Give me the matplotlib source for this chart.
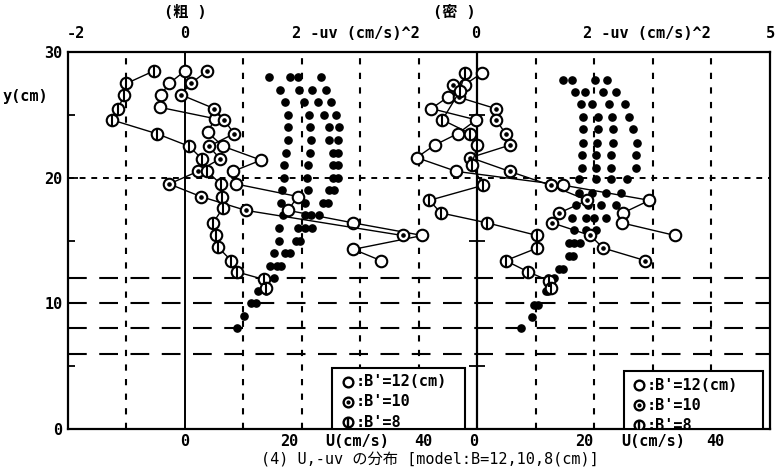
import matplotlib
matplotlib.use('agg')
import matplotlib.pyplot as plt
from matplotlib.patches import Rectangle

# ---------------- data ----------------
# mean velocity U (cm/s) at depth y (cm), four dot columns per panel
# left panel (粗)
lu1_y = [8, 9, 10, 11, 12, 13, 14, 15, 16, 17, 18, 19, 20, 21, 22, 23, 24, 25, 26, 27, 28]
lu1_u = [8.9, 10.1, 11.3, 12.4, 13.5, 14.5, 15.2, 16.0, 16.0, 16.7, 16.4, 16.6, 17.0, 17.0, 17.3, 17.6, 17.6, 17.6, 17.1, 16.2, 14.3]
lu2_y = [10, 11, 12, 13, 14, 15, 16, 17, 18, 19, 20, 21, 22, 23, 24, 25, 26, 27, 28]
lu2_u = [12.1, 13.8, 15.2, 15.8, 17.1, 18.9, 19.4, 20.6, 20.6, 21.0, 20.8, 21.1, 21.3, 21.5, 21.3, 21.2, 20.3, 19.5, 17.9]
lu3_y = [13, 14, 15, 16, 17, 18, 19, 20, 21, 22, 23, 24, 25, 26, 27, 28]
lu3_u = [16.4, 17.9, 19.6, 20.6, 21.5, 23.6, 24.6, 25.3, 25.3, 25.3, 24.7, 24.7, 23.7, 22.7, 21.8, 19.3]
lu4_y = [16, 17, 18, 19, 20, 21, 22, 23, 24, 25, 26, 27, 28]
lu4_u = [21.8, 22.9, 24.4, 25.5, 26.1, 26.1, 26.1, 26.1, 26.3, 25.9, 24.9, 24.1, 23.2]

# right panel (密)
ru1_y = [8.0, 8.9, 9.9, 11.0, 12.0, 12.7, 13.8, 14.8, 15.8, 16.8, 17.8, 18.8, 19.9, 20.8, 21.8, 22.8, 23.9, 24.8, 25.9, 26.8, 27.8]
ru1_u = [7.5, 9.4, 9.6, 11.7, 12.1, 14.0, 15.6, 15.6, 16.5, 16.2, 16.8, 17.4, 17.3, 17.9, 17.9, 18.1, 18.1, 18.1, 17.7, 16.6, 14.7]
ru2_y = [9.9, 11.0, 12.0, 12.7, 13.8, 14.8, 15.8, 16.8, 17.8, 18.8, 19.9, 20.8, 21.8, 22.8, 23.9, 24.8, 25.9, 26.8, 27.8]
ru2_u = [10.4, 12.1, 13.0, 14.7, 16.4, 16.5, 18.5, 18.5, 18.9, 19.6, 20.3, 20.3, 20.3, 20.4, 20.6, 20.6, 19.6, 18.3, 16.2]
ru3_y = [14.8, 15.8, 16.8, 17.8, 18.8, 19.9, 20.8, 21.8, 22.8, 23.9, 24.8, 25.9, 26.8, 27.8]
ru3_u = [17.6, 20.2, 20.0, 21.2, 22.0, 22.9, 22.9, 22.9, 23.2, 23.2, 23.0, 22.4, 21.5, 20.1]
ru4_y = [16.8, 17.8, 18.8, 19.9, 20.8, 21.8, 22.8, 23.9, 24.8, 25.9, 26.8, 27.8]
ru4_u = [22.0, 23.6, 24.5, 25.6, 27.1, 27.1, 27.2, 26.6, 25.9, 25.3, 23.7, 22.2]

# Reynolds stress -uv ((cm/s)^2) profiles, B'=12, 10, 8
# left panel (粗)
l12_y = [28.5, 27.5, 26.6, 25.6, 24.7, 23.6, 22.5, 21.4, 20.5, 19.5, 18.5, 17.4, 16.4, 15.4, 14.3, 13.4]
l12_uv = [0.00, -0.27, -0.41, -0.43, 0.51, 0.39, 0.65, 1.30, 0.82, 0.87, 1.93, 1.76, 2.88, 4.06, 2.88, 3.35]
l10_y = [28.5, 27.5, 26.6, 25.5, 24.6, 23.5, 22.5, 21.5, 20.5, 19.5, 18.5, 17.4, 15.4]
l10_uv = [0.38, 0.10, -0.07, 0.50, 0.67, 0.84, 0.41, 0.60, 0.22, -0.27, 0.27, 1.04, 3.72]
l8_y = [28.5, 27.5, 26.6, 25.5, 24.6, 23.5, 22.5, 21.5, 20.5, 19.5, 18.5, 17.6, 16.4, 15.4, 14.5, 13.4, 12.5, 11.9, 11.2]
l8_uv = [-0.53, -1.00, -1.04, -1.14, -1.25, -0.48, 0.07, 0.29, 0.38, 0.61, 0.63, 0.65, 0.48, 0.53, 0.56, 0.79, 0.89, 1.35, 1.38]

# right panel (密)
r12_y = [28.3, 27.4, 26.4, 25.5, 24.6, 23.5, 22.6, 21.6, 20.5, 19.4, 18.2, 17.2, 16.4, 15.4]
r12_uv = [0.07, -0.22, -0.51, -0.79, -0.02, -0.34, -0.73, -1.04, -0.36, 1.47, 2.94, 2.49, 2.47, 3.38]
r10_y = [27.4, 26.4, 25.5, 24.6, 23.5, 22.6, 21.6, 20.5, 19.4, 18.2, 17.2, 16.4, 15.4, 14.4, 13.4]
r10_uv = [-0.41, -0.32, 0.31, 0.32, 0.48, 0.56, -0.12, 0.55, 1.25, 1.88, 1.40, 1.28, 1.93, 2.15, 2.87]
r8_y = [28.3, 26.9, 24.6, 23.5, 22.6, 21.0, 19.4, 18.2, 17.2, 16.4, 15.4, 14.4, 13.4, 12.5, 11.8, 11.2]
r8_uv = [-0.22, -0.30, -0.60, -0.12, 0.00, -0.10, 0.10, -0.82, -0.63, 0.17, 1.02, 1.02, 0.48, 0.87, 1.22, 1.25]

legend_labels = ["B'=12(cm)", "B'=10", "B'=8"]

# ---------------- figure ----------------
mono = ['DejaVu Sans Mono', 'Noto Sans CJK JP']
fs = 11
fw = 'bold'

fig = plt.figure(figsize=(7.75, 4.73), dpi=100)
ax = fig.add_axes([0.0877, 0.093, 0.9058, 0.797])
ax.set_xlim(-2, 10)
ax.set_ylim(0, 30)
for s in ax.spines.values():
    s.set_linewidth(1.6)

ax.set_xticks([])
ax.set_yticks([0, 10, 20, 30])
ax.set_yticklabels(['0', '10', '20', '30'], family=mono, fontsize=fs, fontweight=fw)
ax.set_yticks([5, 15, 25], minor=True)
ax.tick_params(axis='y', which='major', direction='in', length=7, width=1.3, pad=4)
ax.tick_params(axis='y', which='minor', direction='in', length=5, width=1.3)

# grid: short dashed verticals, solid zero lines, dashed horizontals
for xv in [-1, 1, 2, 3, 4, 6, 7, 8, 9]:
    ax.axvline(xv, color='black', lw=1.5, ls=(0, (3, 4)), zorder=1)
ax.axvline(0, color='black', lw=1.4, zorder=1)
ax.axvline(5, color='black', lw=1.6, zorder=1)
ax.plot([5, 5, 5], [5, 15, 25], ls='none', marker='_', ms=12, mew=1.3, color='black', zorder=1)
ax.axhline(20, color='black', lw=1.4, ls=(0, (3, 3)), zorder=1)
for yh in [6, 8, 10, 12]:
    ax.axhline(yh, color='black', lw=1.5, ls=(0, (9, 6)), zorder=1)

# U dots (x = U/10 in left panel, U/10 + 5 in right panel)
for yy, uu in [(lu1_y, lu1_u), (lu2_y, lu2_u), (lu3_y, lu3_u), (lu4_y, lu4_u)]:
    ax.plot([u / 10 for u in uu], yy, ls='none', marker='o', ms=5.2, color='black', zorder=3)
for yy, uu in [(ru1_y, ru1_u), (ru2_y, ru2_u), (ru3_y, ru3_u), (ru4_y, ru4_u)]:
    ax.plot([u / 10 + 5 for u in uu], yy, ls='none', marker='o', ms=5.2, color='black', zorder=3)


def stress(xs, ys, kind):
    ax.plot(xs, ys, color='black', lw=1.0, marker='o', ms=8.3, mfc='white',
            mec='black', mew=1.5, zorder=4)
    if kind == 'dot':
        ax.plot(xs, ys, ls='none', marker='o', ms=2.3, color='black', zorder=5)
    elif kind == 'bar':
        ax.plot(xs, ys, ls='none', marker='|', ms=8.3, mew=1.5, color='black', zorder=5)


stress(l12_uv, l12_y, 'open')
stress(l10_uv, l10_y, 'dot')
stress(l8_uv, l8_y, 'bar')
stress([v + 5 for v in r12_uv], r12_y, 'open')
stress([v + 5 for v in r10_uv], r10_y, 'dot')
stress([v + 5 for v in r8_uv], r8_y, 'bar')

# legend boxes
for x0, x1, top, mx in [(2.51, 4.78, 4.85, 2.78), (7.51, 9.88, 4.6, 7.76)]:
    ax.add_patch(Rectangle((x0, 0), x1 - x0, top, facecolor='white', edgecolor='black',
                           lw=1.5, zorder=6))
    rows = [top - 1.1, top - 2.7, top - 4.3]
    for ry, lab, kind in zip(rows, legend_labels, ['open', 'dot', 'bar']):
        ax.plot([mx], [ry], marker='o', ms=7, mfc='white', mec='black', mew=1.7, zorder=7)
        if kind == 'dot':
            ax.plot([mx], [ry], marker='o', ms=2, color='black', zorder=8)
        elif kind == 'bar':
            ax.plot([mx], [ry], marker='|', ms=7, mew=1.7, color='black', zorder=8)
        ax.text(mx + 0.13, ry, ':' + lab, family=mono, fontsize=fs, fontweight=fw,
                va='center', ha='left', zorder=8)

# axis texts
tr = ax.get_xaxis_transform()
for xv, s, ha in [(-1.86, '-2', 'center'), (0, '0', 'center'),
                  (1.83, '2 -uv (cm/s)^2', 'left'), (4.97, '0', 'center'),
                  (6.81, '2 -uv (cm/s)^2', 'left'), (10.0, '5', 'center')]:
    ax.text(xv, 1.05, s, transform=tr, family=mono, fontsize=fs, fontweight=fw,
            ha=ha, va='center')
ax.text(0, 1.106, '(粗 )', transform=tr, family=mono, fontsize=fs, fontweight='bold',
        ha='center', va='center')
ax.text(4.6, 1.106, '(密 )', transform=tr, family=mono, fontsize=fs, fontweight='bold',
        ha='center', va='center')
for xv, s in [(0, '0'), (1.79, '20'), (2.94, 'U(cm/s)'), (4.08, '40'),
              (4.93, '0'), (6.83, '20'), (8.0, 'U(cm/s)'), (9.06, '40')]:
    ax.text(xv, -0.034, s, transform=tr, family=mono, fontsize=fs, fontweight=fw,
            ha='center', va='center')
ax.text(-0.0926, 0.881, 'y(cm)', transform=ax.transAxes, family=mono, fontsize=fs,
        fontweight=fw, ha='left', va='center')

fig.text(0.555, 0.0275, '(4) U,-uv の分布 [model:B=12,10,8(cm)]', family=mono,
         fontsize=fs, ha='center', va='center')

fig.savefig('out.png', dpi=100)
plt.close(fig)
